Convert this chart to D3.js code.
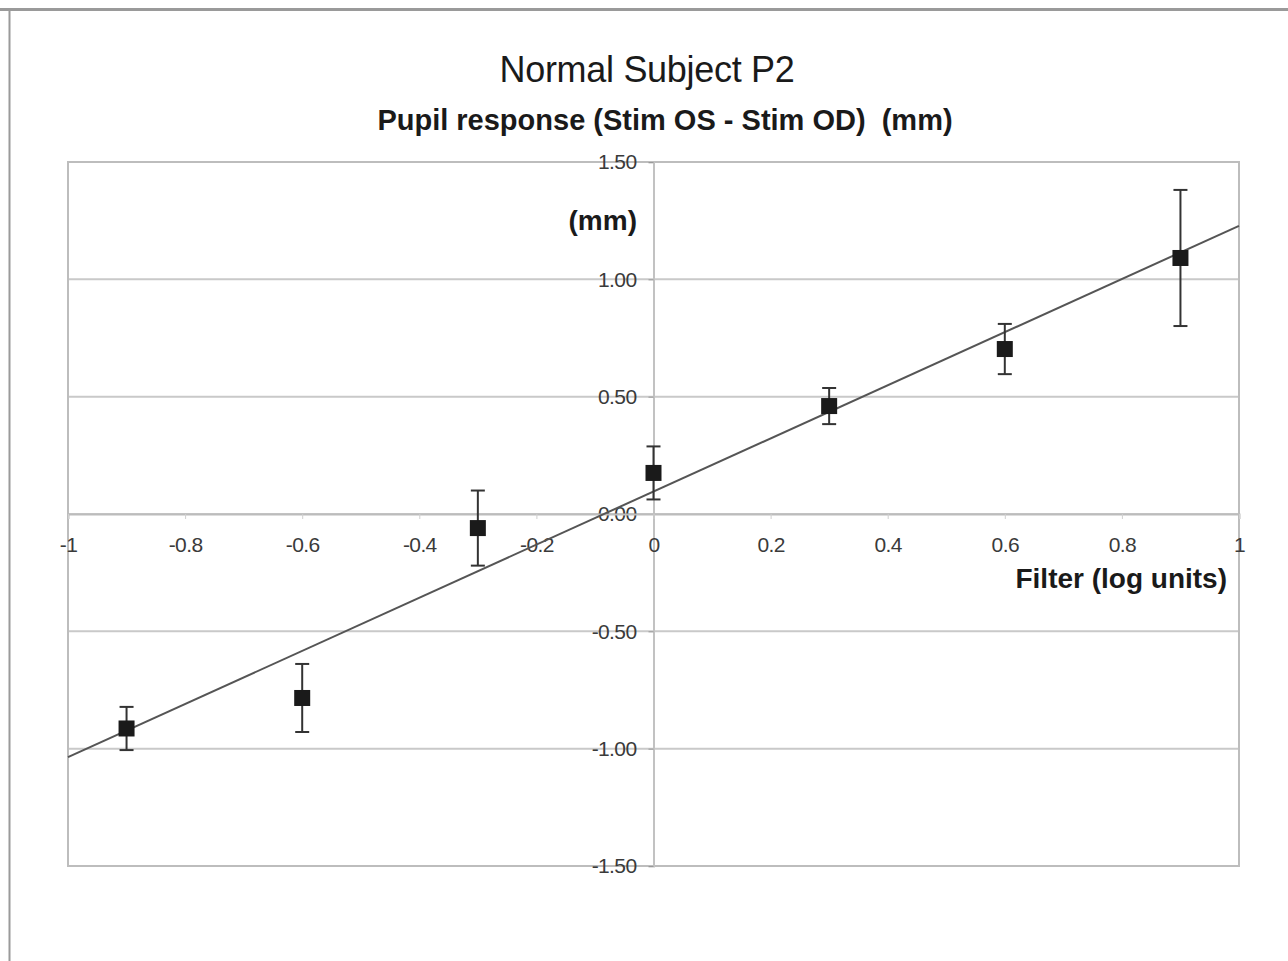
<!DOCTYPE html>
<html>
<head>
<meta charset="utf-8">
<script src="https://cdn.jsdelivr.net/npm/d3@7"></script>
<style>
  body { margin: 0; background: #fff; }
  svg { display: block; font-family: "Liberation Sans", Arial, sans-serif; }
</style>
</head>
<body>
<script>
var width = 1288,
    height = 961;

// filter (log units) and pupil response (mm)
var filterValues = [-0.9, -0.6, -0.3, 0, 0.3, 0.6, 0.9];
var responseValues = [-0.914, -0.784, -0.060, 0.175, 0.460, 0.703, 1.091];
var errorValues = [0.092, 0.145, 0.160, 0.113, 0.077, 0.107, 0.290];

var xTicks = [-1, -0.8, -0.6, -0.4, -0.2, 0, 0.2, 0.4, 0.6, 0.8, 1];
var yTicks = [-1.5, -1, -0.5, 0, 0.5, 1, 1.5];

var points = filterValues.map(function (x, i) {
    return { x: x, y: responseValues[i], err: errorValues[i] };
});

// plain hyphen for negatives, like the original
function hyphen(s) { return s.replace('\u2212', '-'); }

var svg = d3.select('body').append('svg')
    .attr('width', width)
    .attr('height', height);

// outer frame (top and left edges)
svg.append('line').attr('x1', 0).attr('x2', width).attr('y1', 9.5).attr('y2', 9.5)
    .attr('stroke', '#9a9a9a').attr('stroke-width', 3);
svg.append('line').attr('x1', 9.5).attr('x2', 9.5).attr('y1', 8).attr('y2', height)
    .attr('stroke', '#9a9a9a').attr('stroke-width', 2);

var plot = { left: 68, right: 1239, top: 162, bottom: 866 };

var x = d3.scaleLinear().domain([-1, 1]).range([plot.left, plot.right]);
var y = d3.scaleLinear().domain([-1.5, 1.5]).range([plot.bottom, plot.top]);

// titles
svg.append('text')
    .attr('x', 647).attr('y', 82)
    .attr('text-anchor', 'middle')
    .attr('font-size', 36)
    .attr('fill', '#1a1a1a')
    .attr('letter-spacing', -0.3)
    .text('Normal Subject P2');

svg.append('text')
    .attr('x', 665).attr('y', 130)
    .attr('text-anchor', 'middle')
    .attr('font-size', 29)
    .attr('font-weight', 'bold')
    .attr('fill', '#1a1a1a')
    .style('white-space', 'pre')
    .text('Pupil response (Stim OS - Stim OD)  (mm)');

// horizontal grid
svg.append('g')
    .selectAll('line')
    .data(yTicks)
    .join('line')
    .attr('x1', plot.left).attr('x2', plot.right)
    .attr('y1', function (d) { return y(d); })
    .attr('y2', function (d) { return y(d); })
    .attr('stroke', '#c9c9c9')
    .attr('stroke-width', 2);

// plot border
svg.append('rect')
    .attr('x', plot.left).attr('y', plot.top)
    .attr('width', plot.right - plot.left)
    .attr('height', plot.bottom - plot.top)
    .attr('fill', 'none')
    .attr('stroke', '#bdbdbd')
    .attr('stroke-width', 2);

// y axis at x = 0
var yAxis = d3.axisLeft(y)
    .tickValues(yTicks)
    .tickSize(5)
    .tickPadding(12)
    .tickFormat(function (d) { return hyphen(d3.format('.2f')(d)); });

var gy = svg.append('g')
    .attr('transform', 'translate(' + x(0) + ',0)')
    .call(yAxis);
gy.select('.domain').attr('stroke', '#c2c2c2').attr('stroke-width', 2);
gy.selectAll('.tick line').attr('stroke', '#999');
gy.selectAll('.tick text')
    .attr('font-size', 21)
    .attr('letter-spacing', -0.6)
    .attr('fill', '#3a3a3a')
    .attr('font-family', '"Liberation Sans", Arial, sans-serif');

// x axis at y = 0
var xAxis = d3.axisBottom(x)
    .tickValues(xTicks)
    .tickSize(5)
    .tickPadding(18)
    .tickFormat(function (d) { return hyphen(d3.format('')(+d.toFixed(1))); });

var gx = svg.append('g')
    .attr('transform', 'translate(0,' + y(0) + ')')
    .call(xAxis);
gx.select('.domain').attr('stroke', '#bcbcbc').attr('stroke-width', 2);
gx.selectAll('.tick line').attr('stroke', '#cfcfcf');
gx.selectAll('.tick text')
    .attr('font-size', 21)
    .attr('letter-spacing', -0.6)
    .attr('fill', '#3a3a3a')
    .attr('font-family', '"Liberation Sans", Arial, sans-serif');

// axis titles
svg.append('text')
    .attr('x', 637).attr('y', 230)
    .attr('text-anchor', 'end')
    .attr('font-size', 28)
    .attr('font-weight', 'bold')
    .attr('fill', '#1a1a1a')
    .text('(mm)');

svg.append('text')
    .attr('x', 1227).attr('y', 588)
    .attr('text-anchor', 'end')
    .attr('font-size', 28)
    .attr('font-weight', 'bold')
    .attr('fill', '#1a1a1a')
    .text('Filter (log units)');

// linear trend line (least squares fit of the points)
var mx = d3.mean(points, function (d) { return d.x; }),
    my = d3.mean(points, function (d) { return d.y; });
var slope = d3.sum(points, function (d) { return (d.x - mx) * (d.y - my); }) /
    d3.sum(points, function (d) { return (d.x - mx) * (d.x - mx); });
var intercept = my - slope * mx;

svg.append('line')
    .attr('x1', x(-1)).attr('y1', y(intercept - slope))
    .attr('x2', x(1)).attr('y2', y(intercept + slope))
    .attr('stroke', '#555')
    .attr('stroke-width', 2);

// error bars
var bars = svg.append('g')
    .selectAll('g')
    .data(points)
    .join('g')
    .attr('stroke', '#333')
    .attr('stroke-width', 2);

bars.append('line')
    .attr('x1', function (d) { return x(d.x); })
    .attr('x2', function (d) { return x(d.x); })
    .attr('y1', function (d) { return y(d.y + d.err); })
    .attr('y2', function (d) { return y(d.y - d.err); });

bars.append('line')
    .attr('x1', function (d) { return x(d.x) - 7; })
    .attr('x2', function (d) { return x(d.x) + 7; })
    .attr('y1', function (d) { return y(d.y + d.err); })
    .attr('y2', function (d) { return y(d.y + d.err); });

bars.append('line')
    .attr('x1', function (d) { return x(d.x) - 7; })
    .attr('x2', function (d) { return x(d.x) + 7; })
    .attr('y1', function (d) { return y(d.y - d.err); })
    .attr('y2', function (d) { return y(d.y - d.err); });

// markers
svg.append('g')
    .selectAll('rect')
    .data(points)
    .join('rect')
    .attr('x', function (d) { return x(d.x) - 8; })
    .attr('y', function (d) { return y(d.y) - 8; })
    .attr('width', 16)
    .attr('height', 16)
    .attr('fill', '#1a1a1a');
</script>
</body>
</html>
